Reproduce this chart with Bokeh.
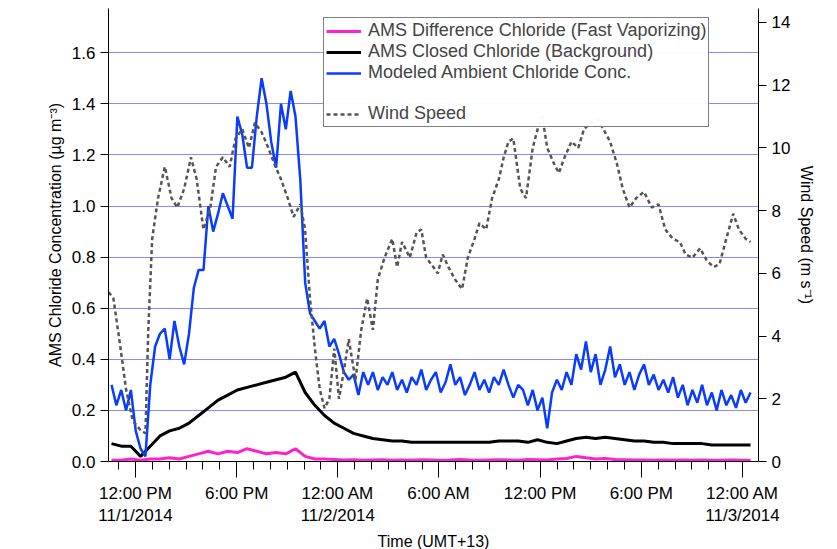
from bokeh.plotting import figure
from bokeh.models import Range1d, LinearAxis, FixedTicker, LegendItem, Legend, PrintfTickFormatter
from bokeh.embed import file_html
from bokeh.resources import INLINE
import numpy as np

# time in hours since 11/1/2014 00:00 (UMT+13)
blue_start, blue_step = 10.58, 0.2871
blue_vals = [0.30,0.22,0.28,0.20,0.28,0.12,0.05,0.02,0.30,0.45,0.50,0.52,0.40,0.55,0.45,0.38,0.50,0.68,0.75,0.75,
             1.00,0.90,0.97,1.05,1.00,0.95,1.35,1.28,1.15,1.15,1.35,1.50,1.40,1.25,1.15,1.40,1.30,1.45,1.35,1.10,
             0.70,0.58,0.55,0.52,0.55,0.45,0.48,0.42,0.35,0.32,0.34,0.26,0.35,0.30,0.35,0.28,0.33,0.30,0.35,0.28,
             0.32,0.27,0.33,0.30,0.36,0.28,0.32,0.35,0.27,0.31,0.38,0.30,0.33,0.26,0.30,0.35,0.28,0.32,0.27,0.33,
             0.30,0.36,0.30,0.25,0.30,0.28,0.22,0.28,0.20,0.25,0.13,0.27,0.32,0.28,0.35,0.30,0.42,0.36,0.47,0.35,
             0.42,0.30,0.36,0.45,0.33,0.38,0.30,0.35,0.28,0.34,0.38,0.30,0.34,0.28,0.32,0.27,0.33,0.25,0.30,0.22,
             0.28,0.23,0.30,0.22,0.27,0.20,0.28,0.22,0.26,0.21,0.28,0.23,0.27]
blk_start, blk_step = 10.58, 0.5742
black_vals = [0.07,0.06,0.06,0.02,0.06,0.10,0.12,0.13,0.15,0.18,0.21,0.24,0.26,0.28,0.29,0.30,0.31,0.32,0.33,0.35,
              0.27,0.22,0.18,0.15,0.13,0.11,0.10,0.09,0.085,0.08,0.08,0.075,0.075,0.075,0.075,0.075,0.075,0.075,0.075,0.075,
              0.08,0.08,0.08,0.075,0.085,0.075,0.07,0.08,0.09,0.095,0.09,0.095,0.09,0.085,0.08,0.08,0.075,0.075,0.07,0.07,
              0.07,0.07,0.065,0.065,0.065,0.065,0.065]
pink_vals = [0.005,0.005,0.01,0.005,0.01,0.01,0.015,0.01,0.02,0.03,0.04,0.03,0.04,0.035,0.05,0.04,0.03,0.035,0.03,0.05,
             0.02,0.01,0.01,0.008,0.006,0.007,0.005,0.006,0.007,0.005,0.006,0.005,0.007,0.006,0.005,0.006,0.008,0.006,0.005,0.006,
             0.007,0.006,0.005,0.008,0.007,0.006,0.01,0.012,0.02,0.015,0.01,0.012,0.008,0.007,0.006,0.006,0.005,0.006,0.005,0.006,
             0.005,0.006,0.005,0.005,0.006,0.005,0.005]
wind_hours = [10.41,10.69,11.04,11.44,11.84,12.30,12.59,12.76,12.99,13.34,13.74,14.14,14.48,14.89,15.29,15.63,16.03,16.44,16.78,17.18,
              17.59,17.93,18.33,18.73,19.08,19.48,19.88,20.23,20.63,21.03,21.38,21.78,22.06,22.35,22.64,22.93,23.21,23.50,23.79,24.07,
              24.36,24.65,25.05,25.39,25.74,26.08,26.37,26.77,27.23,27.52,27.81,28.27,28.67,28.95,29.24,29.53,29.93,30.22,30.56,30.96,
              31.37,31.71,32.11,32.40,32.80,33.15,33.55,33.84,34.12,34.41,34.82,35.16,35.56,35.85,36.13,36.42,36.82,37.11,37.45,37.86,
              38.26,38.60,39.00,39.41,39.75,40.15,40.55,40.90,41.30,41.70,42.16,42.62,43.02,43.42,43.88,44.29,44.63,45.03,45.49,45.89,
              46.30,46.64,47.04,47.45,47.79,48.19,48.48]
wind_vals = [5.4,5.2,3.9,2.3,1.3,1.0,0.9,4.2,7.1,8.4,9.4,8.4,8.1,8.7,9.7,9.0,7.4,8.1,9.4,9.7,
             9.4,10.3,10.6,10.0,10.8,10.5,10.0,9.5,9.0,8.4,7.8,8.2,7.4,5.2,3.6,2.3,1.7,2.0,3.6,2.0,
             2.9,3.9,2.6,4.2,5.2,4.2,5.8,6.5,7.1,6.2,7.0,6.5,7.3,7.4,6.5,6.3,6.0,6.6,6.2,5.8,
             5.5,6.5,7.1,7.6,7.4,8.4,9.0,9.7,10.2,10.3,8.7,8.4,10.0,10.6,11.0,10.0,9.5,9.2,9.7,10.2,
             10.0,10.6,10.8,10.9,10.6,10.2,9.5,8.7,8.1,8.4,8.6,8.1,8.2,7.4,7.1,7.0,6.6,6.5,6.8,6.4,
             6.2,6.3,7.1,7.9,7.4,7.1,7.0]
x_tick_hours = [12, 18, 24, 30, 36, 42, 48]
x_tick_labels = ["12:00 PM\n11/1/2014", "6:00 PM", "12:00 AM\n11/2/2014", "6:00 AM",
                 "12:00 PM", "6:00 PM", "12:00 AM\n11/3/2014"]

blue_t = blue_start + blue_step * np.arange(len(blue_vals))
blk_t = blk_start + blk_step * np.arange(len(black_vals))

FONT = "Liberation Sans"
p = figure(output_backend="svg", toolbar_location=None,
           frame_width=650, frame_height=453,
           x_range=Range1d(10.4, 48.95), y_range=Range1d(0, 1.773),
           min_border_left=108, min_border_right=60, min_border_top=8, min_border_bottom=60)
p.outline_line_color = None
p.extra_y_ranges = {"wind": Range1d(0, 14.446)}
p.xgrid.visible = False
p.ygrid.grid_line_color = "#8888ff"
p.ygrid.grid_line_alpha = 1.0
p.ygrid.ticker = FixedTicker(ticks=[0.2 * i for i in range(1, 9)])

pk = p.line(blk_t, pink_vals, color="#ff22cc", line_width=3)
bk = p.line(blk_t, black_vals, color="black", line_width=3)
bl = p.line(blue_t, blue_vals, color="#0a3cff", line_width=2.5)
wd = p.line(wind_hours, wind_vals, color="#555555", line_width=2.5, line_dash="4 3", y_range_name="wind")
blank = p.line([20], [0.5], alpha=0)

xa = p.xaxis[0]
xa.ticker = FixedTicker(ticks=x_tick_hours, minor_ticks=list(range(11, 49)))
xa.major_label_overrides = {h: l for h, l in zip(x_tick_hours, x_tick_labels)}
xa.axis_label = "Time (UMT+13)"

ya = p.yaxis[0]
ya.ticker = FixedTicker(ticks=[0.2 * i for i in range(0, 9)])
ya.formatter = PrintfTickFormatter(format="%.1f")
ya.axis_label = "AMS Chloride Concentration (µg m⁻³)"

ra = LinearAxis(y_range_name="wind", ticker=FixedTicker(ticks=list(range(0, 15, 2))),
                axis_label="Wind Speed (m s⁻¹)")
p.add_layout(ra, "right")

for ax in [xa, ya, ra]:
    ax.major_label_text_font = FONT
    ax.major_label_text_font_size = "17px"
    ax.major_label_text_color = "black"
    ax.axis_label_text_font = FONT
    ax.axis_label_text_font_size = "16px"
    ax.axis_label_text_font_style = "normal"
    ax.axis_label_text_color = "black"
    ax.axis_line_color = "black"
    ax.major_tick_line_color = "black"
    ax.minor_tick_line_color = "black"
    ax.major_tick_in = 0
    ax.major_tick_out = 8
    ax.minor_tick_in = 0
    ax.minor_tick_out = 0
xa.major_tick_out = 16
xa.minor_tick_out = 8
xa.major_label_standoff = 6

legend = Legend(items=[
    LegendItem(label="AMS Difference Chloride (Fast Vaporizing)", renderers=[pk]),
    LegendItem(label="AMS Closed Chloride (Background)", renderers=[bk]),
    LegendItem(label="Modeled Ambient Chloride Conc.", renderers=[bl]),
    LegendItem(label=" ", renderers=[blank]),
    LegendItem(label="Wind Speed", renderers=[wd]),
], location=(215, 334), label_text_font=FONT, label_text_font_size="18px",
    border_line_color="black", border_line_width=1, glyph_width=35, glyph_height=20,
    label_height=20, spacing=0, padding=2, margin=0, label_standoff=7)
p.add_layout(legend, "center")

open("out.html", "w").write(file_html(p, INLINE))
